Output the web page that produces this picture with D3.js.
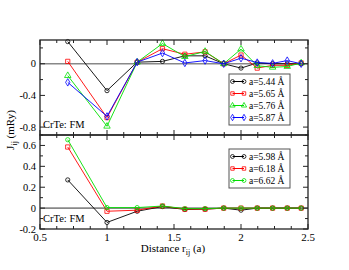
<!DOCTYPE html>
<html>
<head>
<meta charset="utf-8">
<script src="https://cdn.jsdelivr.net/npm/d3@7"></script>
<style>
  body { margin: 0; background: #fff; }
  svg text { font-family: "Liberation Serif", "DejaVu Serif", "Times New Roman", serif; }
</style>
</head>
<body>
<div id="vis"></div>
<script>
// neighbour shell distances (units of a)
let distances = [0.707, 1.0, 1.225, 1.414, 1.581, 1.732, 1.871, 2.0, 2.121, 2.236, 2.345, 2.449];

// top panel: smaller lattice constants
let topLabels = ['a=5.44 Å', 'a=5.65 Å', 'a=5.76 Å', 'a=5.87 Å'];
let j544 = [0.28, -0.34, 0.02, 0.03, 0.10, 0.10, 0.0, -0.055, 0.01, 0.0, 0.0, 0.0];
let j565 = [0.03, -0.68, 0.02, 0.19, 0.12, 0.15, 0.0, 0.11, -0.055, -0.02, -0.02, 0.01];
let j576 = [-0.15, -0.79, 0.02, 0.255, 0.09, 0.155, 0.0, 0.185, -0.025, -0.045, -0.035, 0.01];
let j587 = [-0.235, -0.665, 0.02, 0.135, 0.01, 0.04, 0.0, 0.07, 0.015, 0.005, 0.04, 0.0];

// bottom panel: larger lattice constants
let bottomLabels = ['a=5.98 Å', 'a=6.18 Å', 'a=6.62 Å'];
let j598 = [0.27, -0.137, -0.03, 0.015, -0.013, -0.01, 0.0, -0.02, 0.0, 0.0, 0.0, 0.0];
let j618 = [0.585, -0.03, -0.02, 0.02, -0.01, -0.01, 0.0, 0.0, 0.0, 0.0, 0.0, 0.0];
let j662 = [0.655, 0.005, 0.005, 0.02, -0.005, -0.005, 0.0, 0.0, 0.0, 0.0, 0.0, 0.0];

let xTicks = [0.5, 1, 1.5, 2, 2.5];
let topYTicks = [0, -0.4, -0.8];
let bottomYTicks = [-0.2, 0, 0.2, 0.4, 0.6];

let W = 349, H = 270;
let left = 40, right = 308;

let svg = d3.select('#vis').append('svg')
  .attr('width', W).attr('height', H)
  .style('background-color', 'white');

let x = d3.scaleLinear().domain([0.5, 2.5]).range([left, right]);
let yTop = d3.scaleLinear().domain([-0.9, 0.3]).range([135, 40]);
let yBot = d3.scaleLinear().domain([-0.2, 0.7]).range([229, 135]);

// marker shapes
let shapes = {
  circle: d3.symbol().type(d3.symbolCircle).size(14),
  square: d3.symbol().type(d3.symbolSquare).size(18),
  triangle: d3.symbol().type(d3.symbolTriangle).size(18),
  diamond: d3.symbol().type(d3.symbolDiamond).size(16),
};

function drawPanel(y, series, labels, colors, markers, yTicks, yMinor, legendPos) {
  let g = svg.append('g');
  let [y0, y1] = y.range();

  // zero line
  g.append('line')
    .attr('x1', left).attr('x2', right)
    .attr('y1', y(0)).attr('y2', y(0))
    .attr('stroke', '#888').attr('stroke-width', 1.6);

  // series
  series.forEach((vals, i) => {
    let pts = vals.map((v, k) => [distances[k], v]);
    g.append('path')
      .datum(pts)
      .attr('fill', 'none')
      .attr('stroke', colors[i])
      .attr('stroke-width', 0.9)
      .attr('d', d3.line().x(d => x(d[0])).y(d => y(d[1])));
    g.selectAll(null).data(pts).enter().append('path')
      .attr('transform', d => `translate(${x(d[0])},${y(d[1])})`)
      .attr('d', shapes[markers[i]]())
      .attr('fill', 'none')
      .attr('stroke', colors[i])
      .attr('stroke-width', 0.8);
  });

  // ticks (inward, all four sides)
  let xMinor = d3.range(0.5, 2.5001, 0.125);
  xMinor.forEach(t => {
    let major = Math.abs(t * 2 - Math.round(t * 2)) < 1e-6;
    let len = major ? 5 : 3;
    g.append('line').attr('x1', x(t)).attr('x2', x(t))
      .attr('y1', y0).attr('y2', y0 - len).attr('stroke', '#222');
    g.append('line').attr('x1', x(t)).attr('x2', x(t))
      .attr('y1', y1).attr('y2', y1 + len).attr('stroke', '#222');
  });
  yMinor.forEach(t => {
    let major = yTicks.some(m => Math.abs(m - t) < 1e-6);
    let len = major ? 5 : 3;
    g.append('line').attr('x1', left).attr('x2', left + len)
      .attr('y1', y(t)).attr('y2', y(t)).attr('stroke', '#222');
    g.append('line').attr('x1', right).attr('x2', right - len)
      .attr('y1', y(t)).attr('y2', y(t)).attr('stroke', '#222');
  });

  // y tick labels
  g.selectAll(null).data(yTicks).enter().append('text')
    .attr('x', 36).attr('y', d => y(d) + 3.5)
    .attr('text-anchor', 'end')
    .attr('font-size', 10.5)
    .text(d => String(d));

  // frame
  g.append('rect')
    .attr('x', left).attr('y', y1)
    .attr('width', right - left).attr('height', y0 - y1)
    .attr('fill', 'none').attr('stroke', '#222').attr('stroke-width', 1.3);

  // annotation
  g.append('text')
    .attr('x', 43).attr('y', y0 - 7)
    .attr('font-size', 10.5)
    .text('CrTe: FM');

  // legend
  let lg = svg.append('g').attr('transform', `translate(${legendPos[0]},${legendPos[1]})`);
  let rowH = 12;
  lg.append('rect')
    .attr('width', 61).attr('height', labels.length * rowH + 3)
    .attr('fill', 'white').attr('stroke', '#555').attr('stroke-width', 1);
  labels.forEach((lab, i) => {
    let cy = 7.5 + i * rowH;
    lg.append('line').attr('x1', 3.5).attr('x2', 15)
      .attr('y1', cy).attr('y2', cy)
      .attr('stroke', colors[i]).attr('stroke-width', 1);
    [3.5, 15].forEach(px => {
      lg.append('path')
        .attr('transform', `translate(${px},${cy})`)
        .attr('d', shapes[markers[i]].size(12)())
        .attr('fill', 'none').attr('stroke', colors[i]).attr('stroke-width', 0.8);
    });
    lg.append('text')
      .attr('x', 20).attr('y', cy + 3.5)
      .attr('font-size', 9.5)
      .text(lab);
  });
}

drawPanel(yTop, [j544, j565, j576, j587], topLabels,
  ['#000', '#ff0000', '#00e000', '#0000ff'],
  ['circle', 'square', 'triangle', 'diamond'],
  topYTicks, d3.range(-0.8, 0.21, 0.2).map(v => +v.toFixed(2)), [229, 74]);

// reset marker sizes for the data points of the second panel
shapes.circle.size(14);
shapes.square.size(18);

drawPanel(yBot, [j598, j618, j662], bottomLabels,
  ['#000', '#ff0000', '#00e000'],
  ['circle', 'square', 'circle'],
  bottomYTicks, d3.range(-0.2, 0.71, 0.1).map(v => +v.toFixed(2)), [229, 149]);

// x tick labels
svg.selectAll(null).data(xTicks).enter().append('text')
  .attr('x', d => x(d)).attr('y', 241)
  .attr('text-anchor', 'middle')
  .attr('font-size', 11)
  .text(d => d);

// x axis title
let xt = svg.append('text')
  .attr('x', 173).attr('y', 252)
  .attr('text-anchor', 'middle')
  .attr('font-size', 11);
xt.append('tspan').text('Distance r');
xt.append('tspan').attr('dy', 3).attr('font-size', 8).text('ij');
xt.append('tspan').attr('dy', -3).text(' (a)');

// y axis title
let yt = svg.append('text')
  .attr('transform', 'translate(14,130) rotate(-90)')
  .attr('text-anchor', 'middle')
  .attr('font-size', 11);
yt.append('tspan').text('J');
yt.append('tspan').attr('dy', 3).attr('font-size', 8).text('ij');
yt.append('tspan').attr('dy', -3).text(' (mRy)');
</script>
</body>
</html>
